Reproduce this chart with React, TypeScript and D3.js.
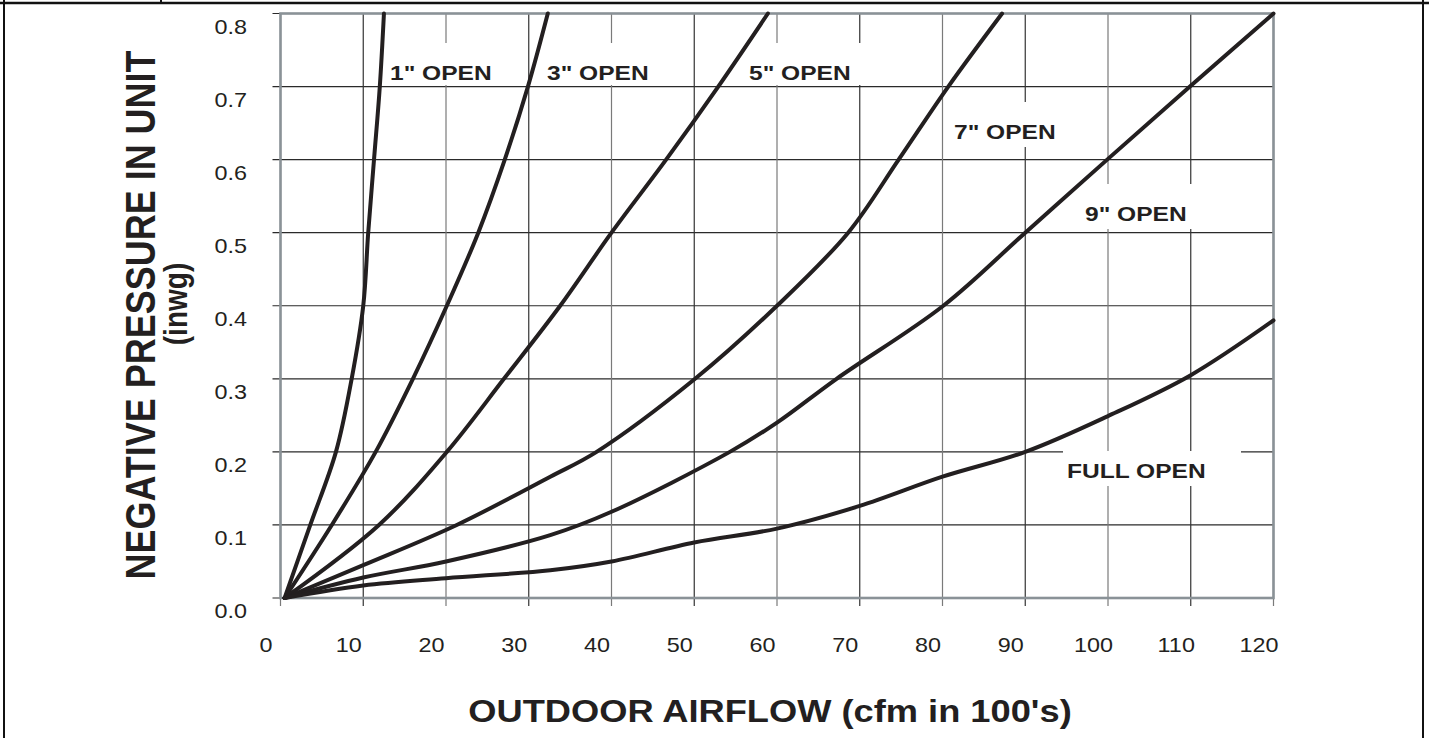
import React from "react";
import * as d3 from "d3";

type Pt = [number, number];

const xTicks = [0, 10, 20, 30, 40, 50, 60, 70, 80, 90, 100, 110, 120];
const yTicks = [0, 0.1, 0.2, 0.3, 0.4, 0.5, 0.6, 0.7, 0.8];

const open1: Pt[] = [[0.5, 0], [3.6, 0.1], [6.7, 0.2], [8.6, 0.3], [10.0, 0.4], [10.6, 0.5], [11.3, 0.6], [12.0, 0.7], [12.5, 0.8]];
const open3: Pt[] = [[0.5, 0], [6.2, 0.1], [11.5, 0.2], [16.0, 0.3], [20.1, 0.4], [23.9, 0.5], [27.1, 0.6], [29.9, 0.7], [32.3, 0.8]];
const open5: Pt[] = [[0.5, 0], [11.9, 0.1], [20.1, 0.2], [27.0, 0.3], [33.8, 0.4], [40.0, 0.5], [46.6, 0.6], [52.9, 0.7], [58.9, 0.8]];
const open7: Pt[] = [[0.5, 0], [10, 0.045], [21.3, 0.1], [32.6, 0.166], [38.2, 0.2], [50.1, 0.3], [60.0, 0.4], [68.6, 0.5], [74.7, 0.6], [80.7, 0.7], [87.2, 0.8]];
const open9: Pt[] = [[0.5, 0], [10, 0.028], [20, 0.05], [32.6, 0.086], [40, 0.118], [54.3, 0.2], [60, 0.24], [67.2, 0.3], [80.1, 0.4], [90, 0.5], [99.9, 0.6], [109.9, 0.7], [120, 0.8]];
const fullOpen: Pt[] = [[0.5, 0], [10, 0.017], [20, 0.027], [32.6, 0.038], [40, 0.05], [50, 0.076], [60, 0.095], [70, 0.126], [80, 0.166], [90, 0.2], [100, 0.249], [110, 0.305], [120, 0.38]];

const seriesList = [open1, open3, open5, open7, open9, fullOpen];

const labelNames = ['1" OPEN', '3" OPEN', '5" OPEN', '7" OPEN', '9" OPEN', "FULL OPEN"];

const FONT = "'Liberation Sans', Arial, Helvetica, sans-serif";
const SX = 1.17;

export default function App() {
  const W = 1429, H = 738;
  const x = d3.scaleLinear().domain([0, 120]).range([280.5, 1273.5]);
  const y = d3.scaleLinear().domain([0, 0.8]).range([598, 13.5]);
  const line = d3.line<Pt>().x(d => x(d[0])).y(d => y(d[1])).curve(d3.curveCatmullRom.alpha(0.5));

  // label layout: [textX, baseline, boxX0, boxX1, boxY0, boxY1]
  const labelLayout = [
    [390, 80, 382, 505, 43, 85],
    [547, 80, 540, 665, 43, 85],
    [749, 80, 740, 870, 43, 85],
    [954, 139, 945, 1065, 102, 147],
    [1085, 221, 1075, 1200, 184, 229],
    [1067, 478, 1063, 1241, 451, 486],
  ];

  const x0 = x(0), x1 = x(120), y0 = y(0), y1 = y(0.8);

  return (
    <svg width={W} height={H} style={{ position: "absolute", left: 0, top: 0, display: "block", background: "#fff" }}>
      <rect x={0} y={0} width={W} height={H} fill="#fff" />
      {/* outer frame */}
      <line x1={4} y1={0} x2={4} y2={H} stroke="#111" strokeWidth={2} />
      <line x1={1423} y1={0} x2={1423} y2={H} stroke="#111" strokeWidth={2} />
      <line x1={0} y1={3} x2={1429} y2={3} stroke="#111" strokeWidth={2.5} />
      <line x1={161} y1={0} x2={161} y2={3} stroke="#111" strokeWidth={2} />

      {/* horizontal gridlines + ticks */}
      {yTicks.map((t, i) => (
        <line key={"h" + i} x1={x0 - 8} x2={x1} y1={y(t)} y2={y(t)} stroke="#2a2a2a" strokeWidth={1.2} />
      ))}
      {/* vertical gridlines + ticks */}
      {xTicks.map((t, i) => (
        <line key={"v" + i} x1={x(t)} x2={x(t)} y1={y1} y2={y0 + 8} stroke={i % 2 === 0 ? "#7a7a7a" : "#333"} strokeWidth={1.2} />
      ))}

      {/* label backgrounds */}
      {labelLayout.map((l, i) => (
        <rect key={"b" + i} x={l[2]} y={l[4]} width={l[3] - l[2]} height={l[5] - l[4]} fill="#fff" />
      ))}

      {/* plot border */}
      <rect x={x0} y={y1} width={x1 - x0} height={y0 - y1} fill="none" stroke="#8a9297" strokeWidth={2.6} />

      {/* curves */}
      {seriesList.map((s, i) => (
        <path key={"c" + i} d={line(s) || ""} fill="none" stroke="#231f20" strokeWidth={4} strokeLinejoin="round" strokeLinecap="round" />
      ))}

      {/* curve labels */}
      {labelLayout.map((l, i) => (
        <text key={"l" + i} transform={`translate(${l[0]},${l[1]}) scale(${SX},1)`} fontFamily={FONT} fontWeight="bold" fontSize={21} fill="#231f20">
          {labelNames[i]}
        </text>
      ))}

      {/* y tick labels */}
      {yTicks.map((t, i) => (
        <text key={"yt" + i} transform={`translate(247,${y(t) + 20}) scale(${SX},1)`} textAnchor="end" fontFamily={FONT} fontSize={20} fill="#231f20">
          {t.toFixed(1)}
        </text>
      ))}
      {/* x tick labels */}
      {xTicks.map((t, i) => (
        <text key={"xt" + i} transform={`translate(${x(t) - 14.5},652) scale(${SX},1)`} textAnchor="middle" fontFamily={FONT} fontSize={20} fill="#231f20">
          {String(t)}
        </text>
      ))}

      {/* axis titles */}
      <text transform={`translate(770,722) scale(${SX},1)`} textAnchor="middle" fontFamily={FONT} fontWeight="bold" fontSize={31} fill="#231f20">
        OUTDOOR AIRFLOW (cfm in 100's)
      </text>
      <text transform={`translate(155,315) scale(${SX},1) rotate(-90)`} textAnchor="middle" fontFamily={FONT} fontWeight="bold" fontSize={36} fill="#231f20">
        NEGATIVE PRESSURE IN UNIT
      </text>
      <text transform={`translate(187,304) scale(${SX},1) rotate(-90)`} textAnchor="middle" fontFamily={FONT} fontWeight="bold" fontSize={28} fill="#231f20">
        (inwg)
      </text>
    </svg>
  );
}
